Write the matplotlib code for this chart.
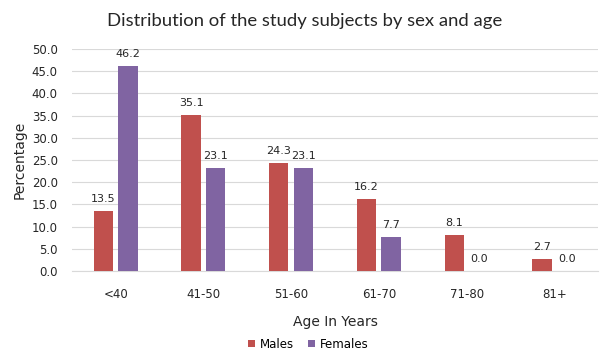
import numpy as np
import matplotlib.pyplot as plt

age_groups = ['<40', '41-50', '51-60', '61-70', '71-80', '81+']
males = [13.5, 35.1, 24.3, 16.2, 8.1, 2.7]
females = [46.2, 23.1, 23.1, 7.7, 0.0, 0.0]

fig = plt.figure(figsize=(6.03, 3.63), dpi=100)
ax = fig.add_axes([0.119, 0.2534, 0.873, 0.612])

x = np.arange(len(age_groups))
w = 0.22
off = 0.14
b1 = ax.bar(x - off, males, w, color='#C0504D', label='Males', zorder=3)
b2 = ax.bar(x + off, females, w, color='#8064A2', label='Females', zorder=3)

for bars, vals in [(b1, males), (b2, females)]:
    for r, v in zip(bars, vals):
        ax.text(r.get_x() + r.get_width() / 2, v + 1.6, f'{v:.1f}',
                ha='center', va='bottom', fontsize=8, color='#262626', clip_on=False)

ax.set_xlim(-0.5, len(age_groups) - 0.5)
ax.set_ylim(0, 50)
ax.set_yticks(np.arange(0, 50.1, 5))
ax.set_yticklabels([f'{t:.1f}' for t in np.arange(0, 50.1, 5)])
ax.set_xticks(x)
ax.set_xticklabels(age_groups)
ax.tick_params(length=0, labelsize=8.5, colors='#262626')
ax.tick_params(axis='x', pad=12)
ax.tick_params(axis='y', pad=10)
ax.grid(axis='y', color='#D9D9D9', linewidth=0.8, zorder=0)
for s in ['top', 'right', 'left']:
    ax.spines[s].set_visible(False)
ax.spines['bottom'].set_color('#D9D9D9')

ax.set_ylabel('Percentage', fontsize=10, color='#262626', labelpad=4)
ax.set_xlabel('Age In Years', fontsize=10, color='#262626', labelpad=10)
fig.text(0.505, 0.942, 'Distribution of the study subjects by sex and age',
         ha='center', va='center', fontsize=13.3, family='Lato', color='#262626')

ax.legend(loc='center', bbox_to_anchor=(0.45, -0.33), ncol=2, frameon=False,
          fontsize=8.5, handlelength=0.6, handleheight=0.6, columnspacing=1.2,
          handletextpad=0.4)

fig.savefig('out.png', dpi=100)
